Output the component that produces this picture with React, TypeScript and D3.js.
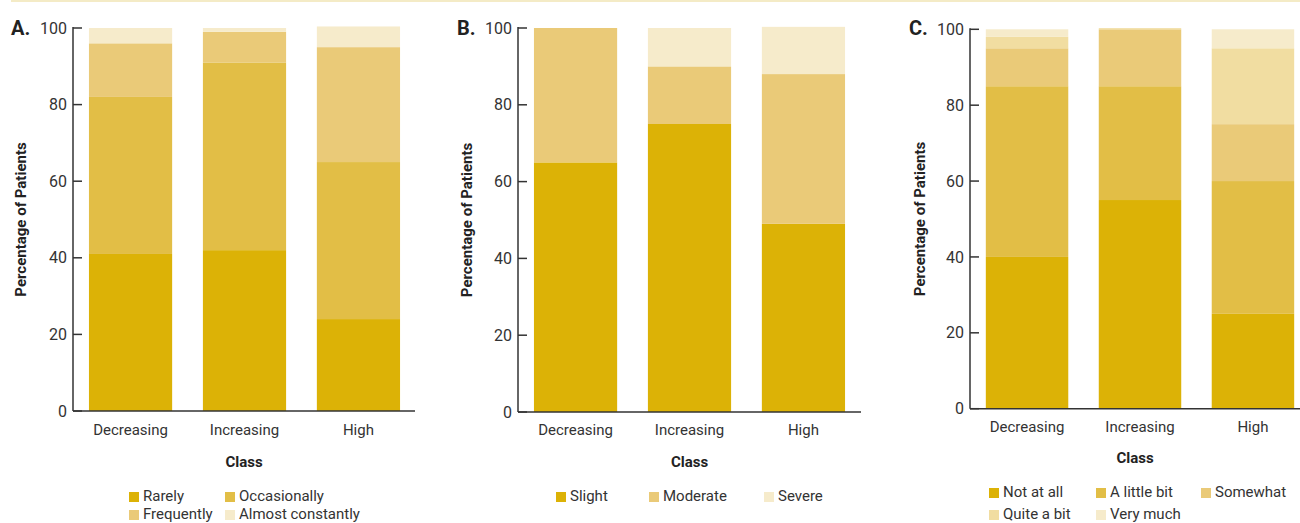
import React from "react";
import * as d3 from "d3";

const classes = ["Decreasing", "Increasing", "High"];
const yTicks = [0, 20, 40, 60, 80, 100];

// Panel A: frequency
const aKeys = ["Rarely", "Occasionally", "Frequently", "Almost constantly"];
const aRarely = [41, 42, 24];
const aOccasionally = [41, 49, 41];
const aFrequently = [14, 8, 30];
const aAlmostConstantly = [4, 1, 5.4];

// Panel B: severity
const bKeys = ["Slight", "Moderate", "Severe"];
const bSlight = [65, 75, 49];
const bModerate = [35, 15, 39];
const bSevere = [0, 10, 12.3];

// Panel C: interference
const cKeys = ["Not at all", "A little bit", "Somewhat", "Quite a bit", "Very much"];
const cNotAtAll = [40, 55, 25];
const cLittleBit = [45, 30, 35];
const cSomewhat = [10, 15, 15];
const cQuiteABit = [3, 0.3, 20];
const cVeryMuch = [2, 0, 5];

const C1 = "#dcb206";
const C2 = "#e2be46";
const C3 = "#eaca78";
const C4 = "#f1dda1";
const C5 = "#f6ebcb";

const FONT = "Roboto, 'Liberation Sans', sans-serif";
const TEXT = "#333";

type Panel = {
  letter: string;
  keys: string[];
  series: number[][];
  colors: string[];
  axisX: number;
  yTop: number;
  yBot: number;
  bandEnd: number;
  axisEnd: number;
  tickBase: number;
  classBase: number;
  titleX: number;
  letterX: number;
  legend: { x: number; y: number }[];
};

const panels: Panel[] = [
  {
    letter: "A.",
    keys: aKeys,
    series: [aRarely, aOccasionally, aFrequently, aAlmostConstantly],
    colors: [C1, C2, C3, C5],
    axisX: 73,
    yTop: 28,
    yBot: 411,
    bandEnd: 416,
    axisEnd: 415,
    tickBase: 435,
    classBase: 467,
    titleX: 21,
    letterX: 11,
    legend: [
      { x: 129, y: 501 },
      { x: 225, y: 501 },
      { x: 129, y: 519 },
      { x: 225, y: 519 },
    ],
  },
  {
    letter: "B.",
    keys: bKeys,
    series: [bSlight, bModerate, bSevere],
    colors: [C1, C3, C5],
    axisX: 518,
    yTop: 28,
    yBot: 412,
    bandEnd: 861,
    axisEnd: 861,
    tickBase: 435,
    classBase: 467,
    titleX: 467,
    letterX: 457,
    legend: [
      { x: 556, y: 501 },
      { x: 649, y: 501 },
      { x: 764, y: 501 },
    ],
  },
  {
    letter: "C.",
    keys: cKeys,
    series: [cNotAtAll, cLittleBit, cSomewhat, cQuiteABit, cVeryMuch],
    colors: [C1, C2, C3, C4, C5],
    axisX: 970,
    yTop: 29.3,
    yBot: 408.7,
    bandEnd: 1310,
    axisEnd: 1300,
    tickBase: 432,
    classBase: 463,
    titleX: 920,
    letterX: 909,
    legend: [
      { x: 989, y: 497 },
      { x: 1096, y: 497 },
      { x: 1201, y: 497 },
      { x: 989, y: 519 },
      { x: 1096, y: 519 },
    ],
  },
];

function PanelView({ p }: { p: Panel }) {
  const x = d3
    .scaleBand<string>()
    .domain(classes)
    .range([p.axisX, p.bandEnd])
    .paddingInner(0.27)
    .paddingOuter(0.14);
  const y = d3.scaleLinear().domain([0, 100]).range([p.yBot, p.yTop]);
  const rows = classes.map((c, i) => {
    const r: any = { cls: c };
    p.keys.forEach((k, j) => (r[k] = p.series[j][i]));
    return r;
  });
  const stacked = d3.stack<any>().keys(p.keys)(rows);
  const midX = (p.axisX + p.axisEnd) / 2;
  const midY = (p.yTop + p.yBot) / 2;
  return (
    <g>
      {stacked.map((layer, li) => (
        <g key={li} fill={p.colors[li]}>
          {layer.map((d, i) =>
            d[1] - d[0] > 0 ? (
              <rect
                key={i}
                x={x(classes[i])}
                width={x.bandwidth()}
                y={y(d[1])}
                height={y(d[0]) - y(d[1])}
              />
            ) : null
          )}
        </g>
      ))}
      <line x1={p.axisX} x2={p.axisX} y1={p.yTop - 1} y2={p.yBot} stroke={TEXT} strokeWidth={1.5} />
      <line x1={p.axisX} x2={p.axisEnd} y1={p.yBot} y2={p.yBot} stroke={TEXT} strokeWidth={1.5} />
      {yTicks.map((t) => (
        <g key={t}>
          <line x1={p.axisX} x2={p.axisX + 9} y1={y(t)} y2={y(t)} stroke={TEXT} strokeWidth={1.5} />
          <text
            x={p.axisX - 6}
            y={y(t)}
            dy="0.35em"
            textAnchor="end"
            fontSize={16}
            fill={TEXT}
          >
            {t}
          </text>
        </g>
      ))}
      {classes.map((c) => (
        <text
          key={c}
          x={(x(c) as number) + x.bandwidth() / 2}
          y={p.tickBase}
          textAnchor="middle"
          fontSize={15}
          fill={TEXT}
        >
          {c}
        </text>
      ))}
      <text x={midX} y={p.classBase} textAnchor="middle" fontSize={15} fontWeight="bold" fill="#222">
        Class
      </text>
      <text
        transform={`translate(${p.titleX},${midY}) rotate(-90)`}
        textAnchor="middle"
        dy="0.35em"
        fontSize={15}
        fontWeight="bold"
        fill="#222"
      >
        Percentage of Patients
      </text>
      <text x={p.letterX} y={35} fontSize={20} fontWeight="bold" fill="#222">
        {p.letter}
      </text>
      {p.keys.map((k, i) => (
        <g key={k}>
          <rect x={p.legend[i].x} y={p.legend[i].y - 9} width={10} height={10} fill={p.colors[i]} />
          <text x={p.legend[i].x + 14} y={p.legend[i].y} fontSize={15} fill={TEXT}>
            {k}
          </text>
        </g>
      ))}
    </g>
  );
}

export default function App() {
  return (
    <svg
      width={1300}
      height={523}
      style={{ position: "absolute", left: 0, top: 0, fontFamily: FONT }}
    >
      <rect x={0} y={0} width={1300} height={523} fill="#fff" />
      <rect x={11} y={0} width={1289} height={2} fill="#f4ebc6" />
      {panels.map((p) => (
        <PanelView key={p.letter} p={p} />
      ))}
    </svg>
  );
}
